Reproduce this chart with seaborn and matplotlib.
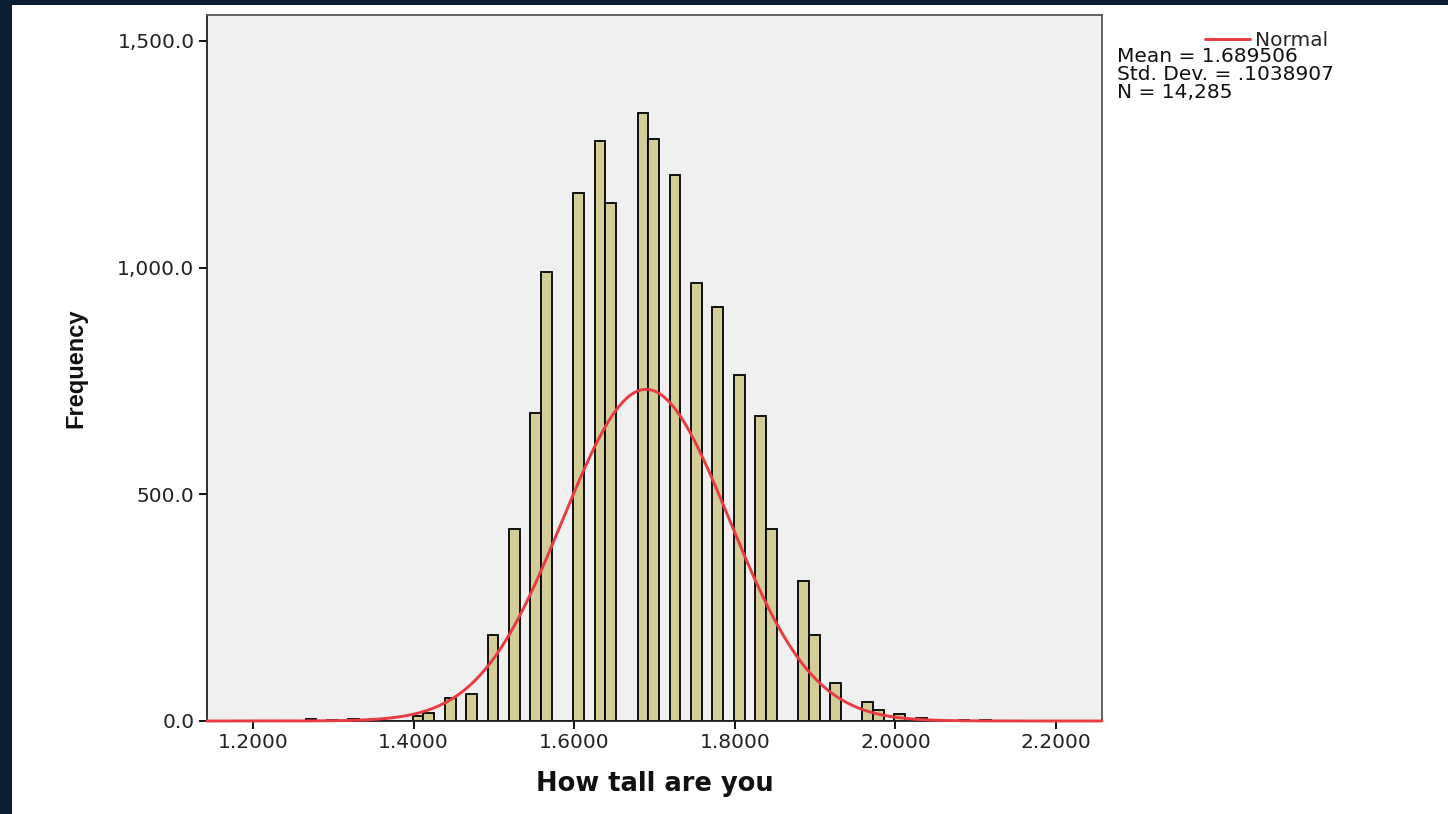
import numpy as np
import pandas as pd
import matplotlib
matplotlib.use("Agg")
import matplotlib.pyplot as plt
from matplotlib import font_manager
from matplotlib.patches import Rectangle
from matplotlib.ticker import FuncFormatter, FixedLocator
import seaborn as sns

# ---- data ----
height_m = [1.2722, 1.2989, 1.3256, 1.3522, 1.4056, 1.4189, 1.4456, 1.4722,
            1.4989, 1.5256, 1.5522, 1.5656, 1.6056, 1.6322, 1.6456, 1.6856,
            1.6989, 1.7256, 1.7522, 1.7789, 1.8056, 1.8322, 1.8456, 1.8856,
            1.8989, 1.9256, 1.9656, 1.9789, 2.0056, 2.0322, 2.0856, 2.1122]
frequency = [5, 3, 4, 4, 11, 18, 50, 60,
             190, 424, 680, 990, 1165, 1279, 1142, 1341,
             1284, 1205, 965, 913, 764, 672, 424, 309,
             190, 84, 43, 24, 15, 7, 2, 2]
bin_width = 0.2 / 15
mean_val = 1.689506
sd_val = 0.1038907
n_val = 14285
x_ticks = [1.2, 1.4, 1.6, 1.8, 2.0, 2.2]
y_ticks = [0, 500, 1000, 1500]

df = pd.DataFrame({"height": height_m, "freq": frequency})

sns.set_theme(style="white")
plt.rcParams['font.family'] = ['DejaVu Sans']

available = {f.name for f in font_manager.fontManager.ttflist}
if "Liberation Sans Narrow" in available:
    ylab_family, ylab_size = ["Liberation Sans Narrow", "DejaVu Sans"], 21
else:
    ylab_family, ylab_size = ["Liberation Sans", "DejaVu Sans"], 17

W, H = 1448, 814
fig = plt.figure(figsize=(W / 100, H / 100), dpi=100, facecolor="#0c1d36")
# white panel over the dark backdrop
fig.patches.append(Rectangle((12 / W, 0), 1 - 12 / W, 1 - 5 / H,
                             transform=fig.transFigure, facecolor="white",
                             edgecolor="none", zorder=-10))

ax = fig.add_axes([207 / W, 1 - 721 / H, (1102 - 207) / W, (721 - 15) / H])
ax.set_zorder(1)
ax.set_facecolor("#f0f0f0")

sns.histplot(data=df, x="height", weights="freq", binwidth=bin_width,
             binrange=(min(height_m) - bin_width / 2, max(height_m) + bin_width / 2),
             ax=ax, color="#d3ce97", edgecolor="black", linewidth=1.3, alpha=1.0)

xs = np.linspace(1.1427, 2.2573, 600)
ys = n_val * bin_width / (sd_val * np.sqrt(2 * np.pi)) * np.exp(-0.5 * ((xs - mean_val) / sd_val) ** 2)
sns.lineplot(x=xs, y=ys, ax=ax, color="#ea3a42", linewidth=2.1, label="Normal",
             zorder=5, clip_on=False)

ax.set_xlim(1.1427, 2.2573)
ax.set_ylim(0, 1557)
ax.xaxis.set_major_locator(FixedLocator(x_ticks))
ax.yaxis.set_major_locator(FixedLocator(y_ticks))
ax.xaxis.set_major_formatter(FuncFormatter(lambda v, p: f"{v:.4f}"))
ax.yaxis.set_major_formatter(FuncFormatter(lambda v, p: f"{v:,.1f}"))
ax.tick_params(axis="both", direction="out", length=6, width=1.3, color="black",
               labelsize=14.5, labelcolor="#222222", pad=3)
ax.tick_params(axis="x", bottom=True)
ax.tick_params(axis="y", left=True)
for s in ax.spines.values():
    s.set_color("#222222")
    s.set_linewidth(1.3)
ax.spines["top"].set_color("#555555")
ax.spines["right"].set_color("#555555")

ax.set_xlabel("How tall are you", fontsize=18.5, fontweight="bold", labelpad=13,
              color="#111111")
ax.set_ylabel("Frequency", fontsize=ylab_size, fontweight="bold",
              family=ylab_family, color="#111111")
ax.yaxis.set_label_coords((87 - 207) / 895, 0.5)

ax.get_legend().remove()
h, l = ax.get_legend_handles_labels()
fig.legend(h, l, loc="upper left", bbox_to_anchor=(1205 / W, 1 - 31 / H),
           frameon=False, fontsize=14.5, handlelength=2.25, handletextpad=0.25,
           borderaxespad=0, borderpad=0)

info = [f"Mean = {mean_val:.6f}", "Std. Dev. = .1038907", f"N = {n_val:,}"]
for i, t in enumerate(info):
    fig.text(1117 / W, 1 - (57 + 17.5 * i) / H, t, fontsize=14.5, va="center",
             ha="left", color="#111111")

fig.savefig("out.png", dpi=100, facecolor=fig.get_facecolor())
